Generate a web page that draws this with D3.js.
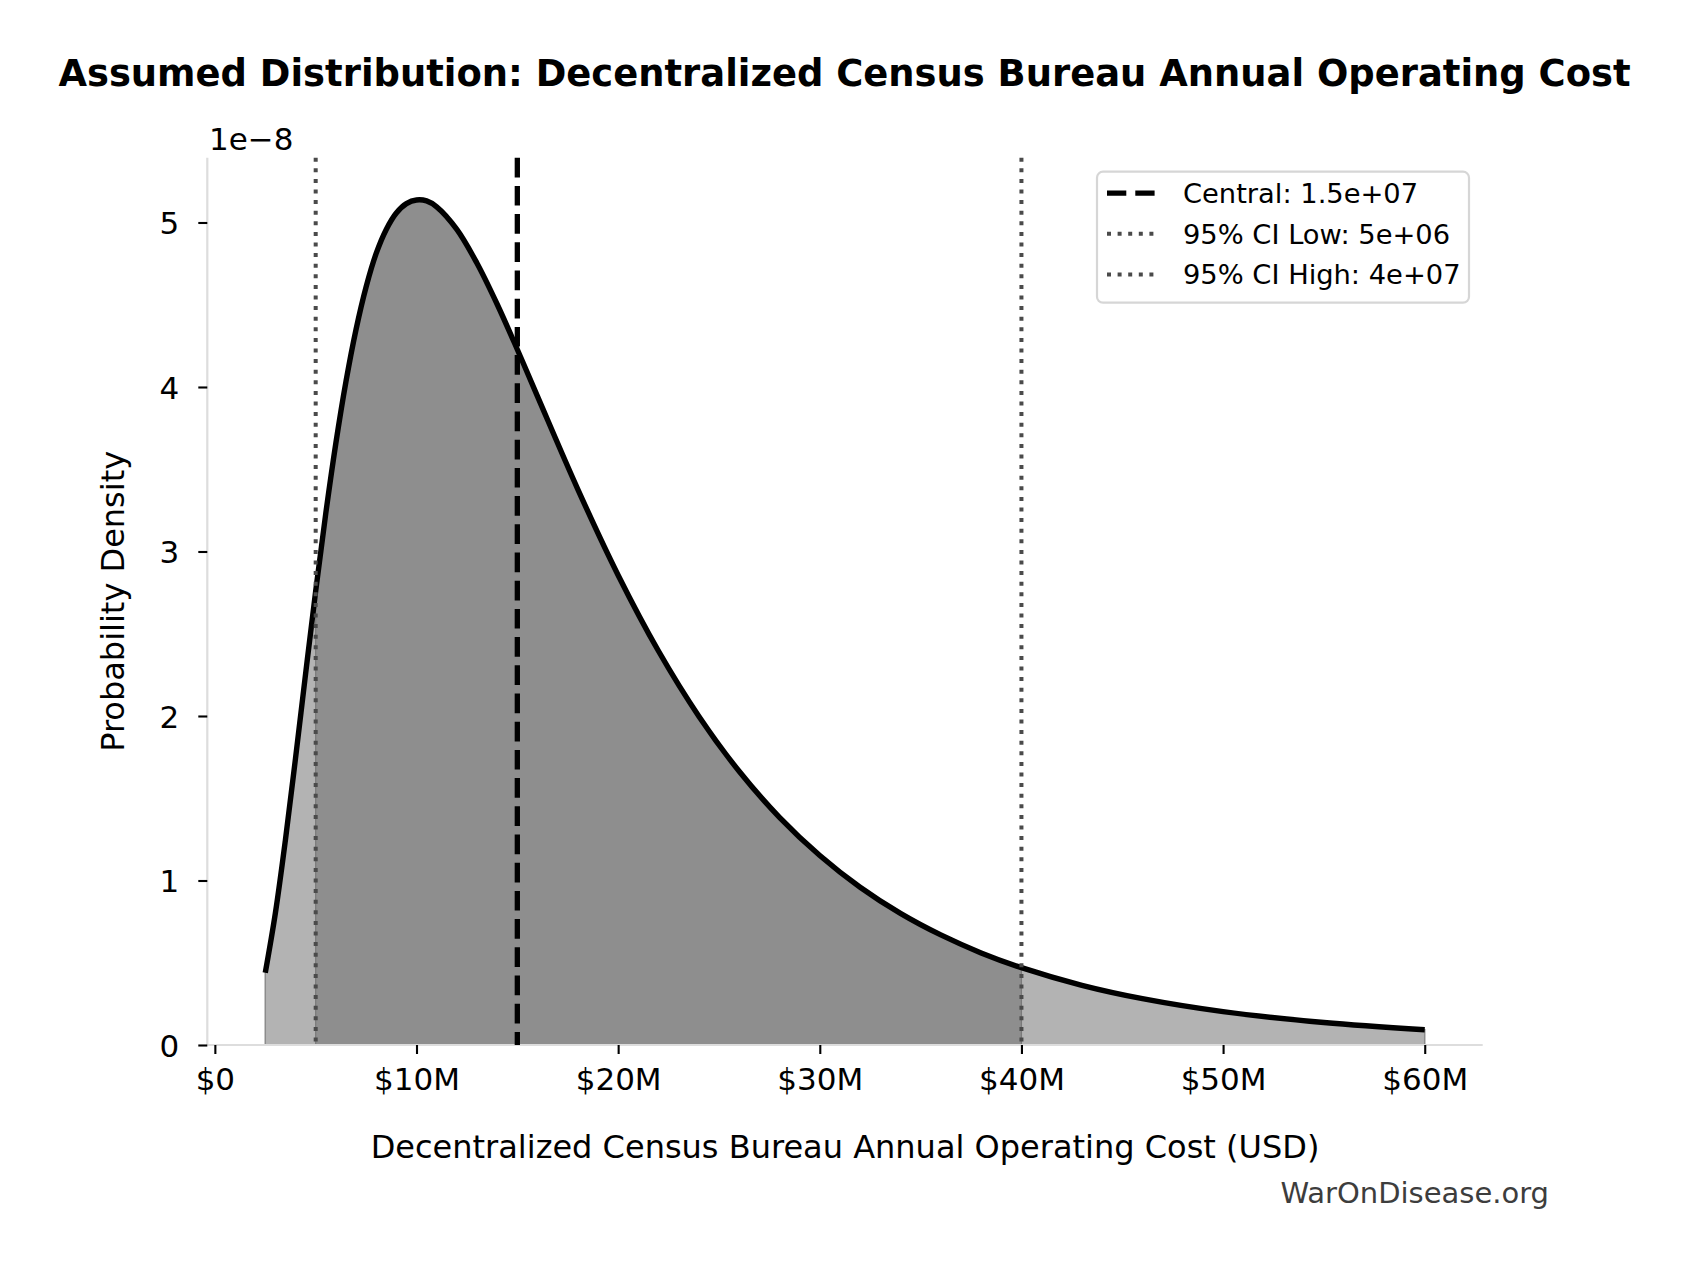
<!DOCTYPE html>
<html>
<head>
<meta charset="utf-8">
<script src="https://cdn.jsdelivr.net/npm/d3@7"></script>
<style>
  body { margin: 0; background: #fff; }
  text { font-family: "DejaVu Sans", sans-serif; }
</style>
</head>
<body>
<script>
// cost in millions of USD, density in units of 1e-8
const costM = [2.5, 3, 3.5, 4, 4.5, 5, 5.5, 6, 6.5, 7, 7.5, 8, 8.5, 9, 9.5, 10, 10.5, 11, 12, 13,
  14, 15, 16, 18, 20, 22, 24, 26, 28, 30, 32, 34, 36, 38, 40, 43, 46, 50, 55, 60];
const densityE8 = [0.439, 0.801, 1.247, 1.743, 2.257, 2.760, 3.231, 3.658, 4.032, 4.349, 4.608, 4.812, 4.958, 5.058, 5.115, 5.137, 5.131, 5.095, 4.958, 4.752,
  4.503, 4.228, 3.943, 3.378, 2.856, 2.395, 1.999, 1.664, 1.384, 1.152, 0.959, 0.800, 0.669, 0.560, 0.470, 0.363, 0.282, 0.203, 0.137, 0.093];

const centralM = 15;
const ciLowM = 5;
const ciHighM = 40;

const xTicks = [0, 10, 20, 30, 40, 50, 60];
const xTickLabels = ['$0', '$10M', '$20M', '$30M', '$40M', '$50M', '$60M'];
const yTicks = [0, 1, 2, 3, 4, 5];

const legendLabels = ['Central: 1.5e+07', '95% CI Low: 5e+06', '95% CI High: 4e+07'];

const width = 1689;
const height = 1266;
const plot = { left: 207.3, right: 1482.7, top: 157.7, bottom: 1045 };

const data = costM.map((c, i) => ({ x: c, y: densityE8[i] }));

const svg = d3.select('body')
  .append('svg')
  .attr('width', width)
  .attr('height', height);

// matplotlib style 5% margins
const xPad = (d3.max(costM) - d3.min(costM)) * 0.05;
const x = d3.scaleLinear()
  .domain([d3.min(costM) - xPad, d3.max(costM) + xPad])
  .range([plot.left, plot.right]);
const y = d3.scaleLinear()
  .domain([0, d3.max(densityE8) * 1.05])
  .range([plot.bottom, plot.top]);

const curve = d3.curveCatmullRom.alpha(0.5);

const area = d3.area()
  .x(d => x(d.x))
  .y0(y(0))
  .y1(d => y(d.y))
  .curve(curve);

const line = d3.line()
  .x(d => x(d.x))
  .y(d => y(d.y))
  .curve(curve);

// full area, light
svg.append('path')
  .datum(data)
  .attr('d', area)
  .attr('fill', '#b3b3b3')
  .attr('stroke', '#8c8c8c')
  .attr('stroke-width', 1.5);

// 95% CI area, darker
svg.append('path')
  .datum(data.filter(d => d.x >= ciLowM && d.x <= ciHighM))
  .attr('d', area)
  .attr('fill', '#8e8e8e')
  .attr('stroke', '#7a7a7a')
  .attr('stroke-width', 1.2);

// spines
svg.append('line')
  .attr('x1', plot.left).attr('x2', plot.left)
  .attr('y1', plot.top).attr('y2', plot.bottom)
  .attr('stroke', '#dddddd').attr('stroke-width', 2.2);
svg.append('line')
  .attr('x1', plot.left).attr('x2', plot.right)
  .attr('y1', plot.bottom).attr('y2', plot.bottom)
  .attr('stroke', '#dddddd').attr('stroke-width', 2.2);

// axes
const xAxis = svg.append('g')
  .attr('transform', `translate(0,${plot.bottom})`)
  .call(d3.axisBottom(x).tickValues(xTicks).tickFormat((d, i) => xTickLabels[i]).tickSize(9).tickPadding(14));
const yAxis = svg.append('g')
  .attr('transform', `translate(${plot.left},0)`)
  .call(d3.axisLeft(y).tickValues(yTicks).tickFormat(d3.format('d')).tickSize(9).tickPadding(19));

[xAxis, yAxis].forEach(g => {
  g.select('.domain').remove();
  g.selectAll('.tick line').attr('stroke', '#000').attr('stroke-width', 2.1);
  g.selectAll('.tick text')
    .attr('font-size', 31)
    .attr('fill', '#000')
    .style('font-family', '"DejaVu Sans", sans-serif');
});
yAxis.selectAll('.tick text').attr('dy', '0.36em');

// curve
svg.append('path')
  .datum(data)
  .attr('d', line)
  .attr('fill', 'none')
  .attr('stroke', '#000')
  .attr('stroke-width', 5.4)
  .attr('stroke-linejoin', 'round');

// reference lines
svg.append('line')
  .attr('x1', x(centralM)).attr('x2', x(centralM))
  .attr('y1', plot.top).attr('y2', plot.bottom)
  .attr('stroke', '#000').attr('stroke-width', 5.3)
  .attr('stroke-dasharray', '19.7 8.5');

[ciLowM, ciHighM].forEach(v => {
  svg.append('line')
    .attr('x1', x(v)).attr('x2', x(v))
    .attr('y1', plot.top).attr('y2', plot.bottom)
    .attr('stroke', '#4a4a4a').attr('stroke-width', 4)
    .attr('stroke-dasharray', '4 6.6');
});

// offset text
svg.append('text')
  .attr('x', 209)
  .attr('y', 150)
  .attr('font-size', 31)
  .text('1e\u22128');

// title
svg.append('text')
  .attr('x', 844.5)
  .attr('y', 86)
  .attr('text-anchor', 'middle')
  .attr('font-size', 36.9)
  .attr('font-weight', 'bold')
  .text('Assumed Distribution: Decentralized Census Bureau Annual Operating Cost');

// axis labels
svg.append('text')
  .attr('x', (plot.left + plot.right) / 2)
  .attr('y', 1158)
  .attr('text-anchor', 'middle')
  .attr('font-size', 32)
  .text('Decentralized Census Bureau Annual Operating Cost (USD)');

svg.append('text')
  .attr('transform', `translate(124,${(plot.top + plot.bottom) / 2}) rotate(-90)`)
  .attr('text-anchor', 'middle')
  .attr('font-size', 32)
  .text('Probability Density');

// watermark
svg.append('text')
  .attr('x', 1549)
  .attr('y', 1203)
  .attr('text-anchor', 'end')
  .attr('font-size', 29)
  .attr('fill', '#3d3d3d')
  .text('WarOnDisease.org');

// legend
const legend = svg.append('g').attr('transform', 'translate(1097,171.7)');
legend.append('rect')
  .attr('width', 372)
  .attr('height', 131)
  .attr('rx', 6)
  .attr('fill', '#fff')
  .attr('fill-opacity', 0.8)
  .attr('stroke', '#d6d6d6')
  .attr('stroke-width', 2.2);

const legendStyles = [
  { color: '#000', width: 5.3, dash: '19.3 9' },
  { color: '#4a4a4a', width: 4, dash: '4 6.6' },
  { color: '#4a4a4a', width: 4, dash: '4 6.6' }
];

legendLabels.forEach((label, i) => {
  const cy = 21.5 + i * 40.6;
  legend.append('line')
    .attr('x1', 10).attr('x2', 63)
    .attr('y1', cy).attr('y2', cy)
    .attr('stroke', legendStyles[i].color)
    .attr('stroke-width', legendStyles[i].width)
    .attr('stroke-dasharray', legendStyles[i].dash);
  legend.append('text')
    .attr('x', 86)
    .attr('y', cy)
    .attr('dy', '0.36em')
    .attr('font-size', 27.3)
    .text(label);
});
</script>
</body>
</html>
